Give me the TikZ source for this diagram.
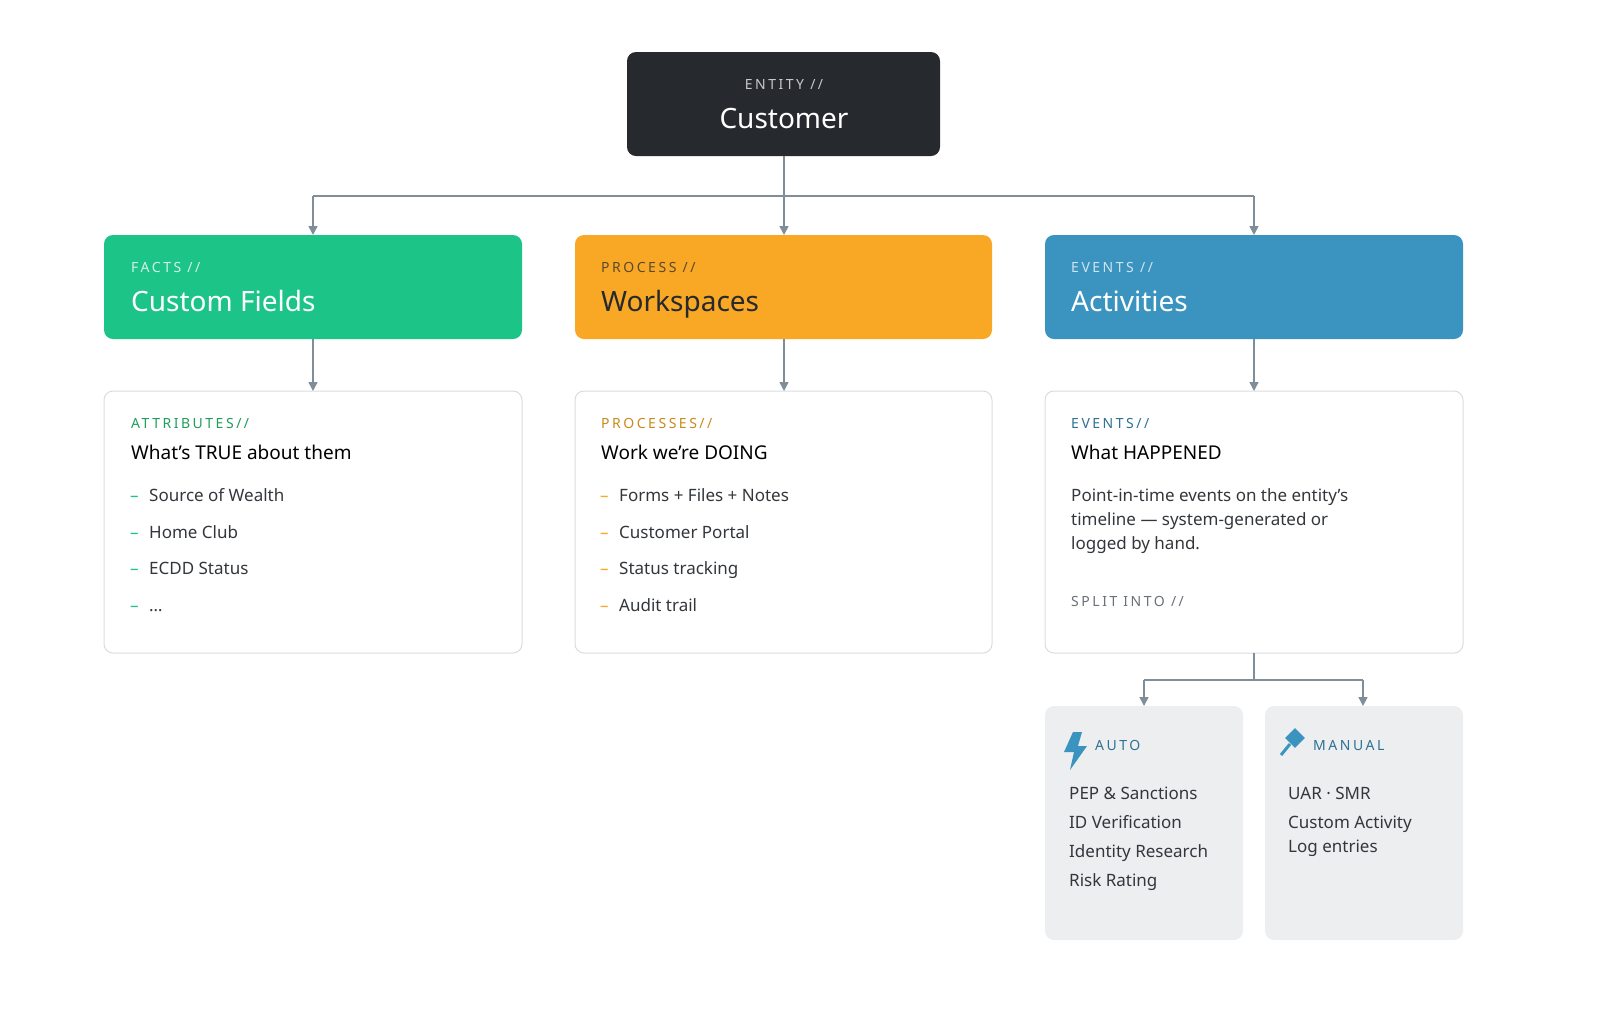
\documentclass[tikz,border=0pt]{standalone}
\usepackage{fontspec}
\setmainfont{Noto Sans}
\usetikzlibrary{arrows.meta}
\definecolor{dark}{HTML}{26292E}
\definecolor{cgreen}{HTML}{1CC488}
\definecolor{corange}{HTML}{F9A825}
\definecolor{cblue}{HTML}{3B94BF}
\definecolor{lgreen}{HTML}{1F9D5B}
\definecolor{lorange}{HTML}{C98A1D}
\definecolor{lblue}{HTML}{2E7194}
\definecolor{conn}{HTML}{7F8E99}
\definecolor{bord}{HTML}{D9DCDF}
\definecolor{subfill}{HTML}{ECEEF0}
\definecolor{txt}{HTML}{33373C}
\definecolor{mygray}{HTML}{6B7178}
\newcommand{\spc}[1]{{\addfontfeature{LetterSpace=18}#1}}
\tikzset{x=1pt,y=-1pt,
 conn/.style={draw=conn,line width=1.6pt,-{Triangle[length=9pt,width=9pt]}},
 connl/.style={draw=conn,line width=1.6pt},
 lab/.style={anchor=base west,inner sep=0pt,font=\fontsize{14}{16}\selectfont\bfseries},
 ttl/.style={anchor=base west,inner sep=0pt,font=\fontsize{28}{32}\selectfont\bfseries},
 sub/.style={anchor=base west,inner sep=0pt,font=\fontsize{19}{22}\selectfont\bfseries},
 item/.style={anchor=base west,inner sep=0pt,font=\fontsize{17}{20}\selectfont,text=txt},
 box/.style={rounded corners=9pt},
}
\begin{document}
\begin{tikzpicture}
\useasboundingbox (0,0) rectangle (1600,1013);
% top
\fill[dark,box] (627,52) rectangle (940,156);
\node[inner sep=0pt,font=\fontsize{14}{16}\selectfont\bfseries,text=white!75!dark] (ent) at (784,84) {\spc{ENTITY //}};
\node[inner sep=0pt,font=\fontsize{28}{32}\selectfont\bfseries,text=white] (cust) at (784,118) {Customer};
\coordinate (cb) at (784,156);
\coordinate (j) at (784,196);
\coordinate (jl) at (313,196);
\coordinate (jr) at (1254,196);
% row boxes
\fill[cgreen,box] (104,235) rectangle (522,339);
\fill[corange,box] (575,235) rectangle (992,339);
\fill[cblue,box] (1045,235) rectangle (1463,339);
\coordinate (gt) at (313,235); \coordinate (ot) at (784,235); \coordinate (bt) at (1254,235);
\coordinate (gb) at (313,339); \coordinate (ob) at (784,339); \coordinate (bb) at (1254,339);
\node[lab,text=white!80!cgreen] (l1) at (131,272) {\spc{FACTS //}};
\node[ttl,text=white] (t1) at (131,311) {Custom Fields};
\node[lab,text=dark!75!corange] (l2) at (601,272) {\spc{PROCESS //}};
\node[ttl,text=dark] (t2) at (601,311) {Workspaces};
\node[lab,text=white!75!cblue] (l3) at (1071,272) {\spc{EVENTS //}};
\node[ttl,text=white] (t3) at (1071,311) {Activities};
\draw[connl] (cb) -- (j);
\draw[connl] (jl) -- (jr);
\draw[conn] (jl) -- (gt);
\draw[conn] (j) -- (ot);
\draw[conn] (jr) -- (bt);
% detail boxes
\draw[bord,line width=1pt,fill=white,box] (104,391) rectangle (522,653);
\draw[bord,line width=1pt,fill=white,box] (575,391) rectangle (992,653);
\draw[bord,line width=1pt,fill=white,box] (1045,391) rectangle (1463,653);
\coordinate (gd) at (313,391); \coordinate (od) at (784,391); \coordinate (bd) at (1254,391);
\draw[conn] (gb) -- (gd);
\draw[conn] (ob) -- (od);
\draw[conn] (bb) -- (bd);
% green details
\node[lab,text=lgreen] (a1) at (131,428) {\spc{ATTRIBUTES//}};
\node[sub] (a2) at (131,459) {What's TRUE about them};
\foreach \y/\t [count=\i] in {501/Source of Wealth,538/Home Club,574/ECDD Status,611/\ldots}{
  \node[item,text=cgreen,font=\fontsize{17}{20}\selectfont\bfseries] (gd\i) at (130,\y) {–};
  \node[item] (gi\i) at (149,\y) {\t};}
% orange
\node[lab,text=lorange] (p1) at (601,428) {\spc{PROCESSES//}};
\node[sub] (p2) at (601,459) {Work we're DOING};
\foreach \y/\t [count=\i] in {501/Forms + Files + Notes,538/Customer Portal,574/Status tracking,611/Audit trail}{
  \node[item,text=corange,font=\fontsize{17}{20}\selectfont\bfseries] (od\i) at (600,\y) {–};
  \node[item] (oi\i) at (619,\y) {\t};}
% blue
\node[lab,text=lblue] (e1) at (1071,428) {\spc{EVENTS//}};
\node[sub] (e2) at (1071,459) {What HAPPENED};
\node[item] (e3) at (1071,501) {Point-in-time events on the entity's};
\node[item] (e4) at (1071,525) {timeline — system-generated or};
\node[item] (e5) at (1071,549) {logged by hand.};
\node[lab,text=mygray] (e6) at (1071,606) {\spc{SPLIT INTO //}};
% split
\coordinate (sb) at (1254,653); \coordinate (sj) at (1254,680);
\coordinate (sl) at (1144,680); \coordinate (sr) at (1363,680);
\fill[subfill,box] (1045,706) rectangle (1243,940);
\fill[subfill,box] (1265,706) rectangle (1463,940);
\coordinate (slt) at (1144,706); \coordinate (srt) at (1363,706);
\draw[connl] (sb) -- (sj);
\draw[connl] (sl) -- (sr);
\draw[conn] (sl) -- (slt);
\draw[conn] (sr) -- (srt);
% icons
\fill[cblue] (1073,732) -- (1082,732) -- (1078,746) -- (1087,746) -- (1070,770) -- (1074,752) -- (1064,752) -- cycle;
\fill[cblue,rotate around={45:(1295,738)}] (1288,731) rectangle (1302,745);
\draw[cblue,line width=3pt] (1290,744) -- (1281,755);
\node[lab,text=lblue] (au) at (1095,750) {\spc{AUTO}};
\node[lab,text=lblue] (ma) at (1313,750) {\spc{MANUAL}};
\foreach \y/\t [count=\i] in {799/PEP \& Sanctions,828/ID Verification,857/Identity Research,886/Risk Rating}{
  \node[item] (ai\i) at (1069,\y) {\t};}
\foreach \y/\t [count=\i] in {799/UAR · SMR,828/Custom Activity,852/Log entries}{
  \node[item] (mi\i) at (1288,\y) {\t};}
\end{tikzpicture}
\end{document}
